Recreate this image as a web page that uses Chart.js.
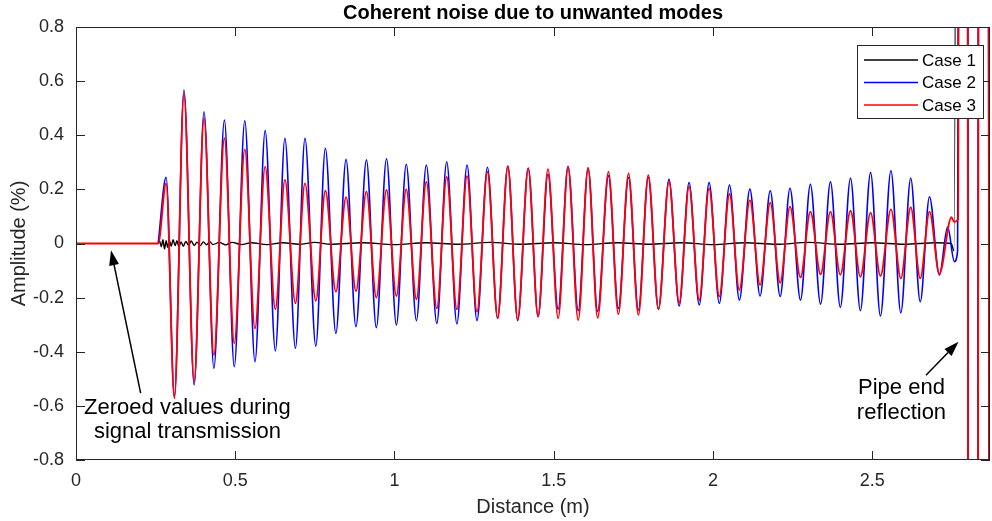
<!DOCTYPE html>
<html lang="en">
<head>
<meta charset="UTF-8" />
<title>Coherent noise due to unwanted modes</title>
<script src="https://cdn.jsdelivr.net/npm/chart.js"></script>
<style>
  html, body { margin: 0; padding: 0; background: #ffffff; }
</style>
</head>
<body>
<canvas id="noiseChart" width="992" height="521"></canvas>

<script>
  // ---- data ----
  // leading zeroed section (signal transmission); only case 3 is visible there
  var onsetX = [0, 0.258];
  var onsetY = [0, 0];

  // peak / trough positions of the oscillation (m)
  var extremaX = [
    0.283, 0.309, 0.339, 0.371, 0.402, 0.433, 0.466, 0.497, 0.530, 0.562,
    0.594, 0.626, 0.656, 0.689, 0.719, 0.753, 0.783, 0.816, 0.848, 0.879,
    0.912, 0.943, 0.975, 1.006, 1.037, 1.069, 1.100, 1.133, 1.164, 1.196,
    1.228, 1.259, 1.292, 1.324, 1.356, 1.387, 1.420, 1.451, 1.482, 1.514,
    1.545, 1.577, 1.608, 1.638, 1.672, 1.703, 1.735, 1.766, 1.797, 1.829,
    1.862, 1.894, 1.925, 1.957, 1.988, 2.020, 2.052, 2.083, 2.116, 2.148,
    2.180, 2.211, 2.242, 2.275, 2.306, 2.338, 2.369, 2.400, 2.432, 2.463,
    2.495, 2.526, 2.559, 2.590, 2.621, 2.651, 2.680, 2.711
  ];

  // case 2 (blue) amplitude at each extremum
  var case2Peaks = [
    0.245, -0.565, 0.567, -0.523, 0.487, -0.461, 0.456, -0.455, 0.453, -0.437,
    0.417, -0.397, 0.389, -0.387, 0.389, -0.379, 0.352, -0.332, 0.311, -0.307,
    0.309, -0.311, 0.313, -0.301, 0.293, -0.285, 0.290, -0.295, 0.302, -0.297,
    0.290, -0.285, 0.282, -0.276, 0.286, -0.285, 0.278, -0.270, 0.256, -0.243,
    0.284, -0.248, 0.278, -0.250, 0.250, -0.240, 0.244, -0.246, 0.245, -0.243,
    0.237, -0.231, 0.225, -0.227, 0.225, -0.221, 0.216, -0.209, 0.201, -0.194,
    0.195, -0.196, 0.204, -0.209, 0.219, -0.224, 0.228, -0.236, 0.241, -0.248,
    0.262, -0.268, 0.269, -0.256, 0.241, -0.215, 0.173, -0.116
  ];

  // case 3 (red) amplitude at each extremum
  var case3Peaks = [
    0.222, -0.572, 0.555, -0.510, 0.463, -0.412, 0.389, -0.369, 0.348, -0.314,
    0.284, -0.243, 0.235, -0.221, 0.222, -0.212, 0.195, -0.178, 0.171, -0.176,
    0.192, -0.200, 0.198, -0.194, 0.200, -0.206, 0.228, -0.240, 0.246, -0.243,
    0.249, -0.252, 0.265, -0.276, 0.286, -0.280, 0.278, -0.270, 0.275, -0.276,
    0.284, -0.283, 0.280, -0.275, 0.265, -0.261, 0.259, -0.264, 0.253, -0.243,
    0.229, -0.219, 0.210, -0.209, 0.204, -0.196, 0.183, -0.172, 0.160, -0.153,
    0.151, -0.145, 0.136, -0.125, 0.118, -0.114, 0.118, -0.116, 0.121, -0.123,
    0.114, -0.120, 0.126, -0.129, 0.134, -0.129, 0.118, -0.112
  ];

  // pipe end reflection (goes far off scale)
  var case2TailX = [2.737, 2.758, 2.768, 2.784, 2.817, 2.849, 2.880];
  var case2TailY = [0.062, -0.067, -0.030, 20, -20, 20, -20];
  var case3TailX = [2.749, 2.757, 2.770, 2.784, 2.817, 2.849, 2.880];
  var case3TailY = [0.097, 0.080, 0.090, 20, -20, 20, -20];

  // case 1 (black): small residual around zero
  var caseOneX = [
    0.258, 0.263, 0.268, 0.273, 0.278, 0.283, 0.288, 0.293, 0.299,
    0.305, 0.311, 0.317, 0.323, 0.330, 0.337, 0.345, 0.353, 0.362, 0.371,
    0.380, 0.390, 0.400, 0.410, 0.420, 0.430, 0.450, 0.470, 0.490, 0.520,
    0.550, 0.600, 0.650, 0.700, 0.750, 0.800, 0.900, 1.000, 1.100, 1.200,
    1.300, 1.400, 1.500, 1.600, 1.700, 1.800, 1.900, 2.000, 2.100, 2.200,
    2.300, 2.400, 2.500, 2.600, 2.700, 2.748, 2.757, 2.784, 2.817, 2.849, 2.880
  ];
  var caseOneY = [
    0, 0.008, -0.012, 0.014, -0.020, 0.010, -0.014, 0.012, -0.010,
    0.014, -0.008, 0.010, -0.012, 0.006, -0.010, 0.008, -0.006, 0.009, -0.007,
    0.005, -0.008, 0.006, -0.005, 0.007, -0.004, 0.004, -0.005, 0.004, -0.004,
    0.003, -0.004, 0.003, -0.003, 0.004, -0.003, 0.003, -0.004, 0.003, -0.003,
    0.004, -0.003, 0.003, -0.004, 0.003, -0.003, 0.003, -0.004, 0.003, -0.003,
    0.004, -0.003, 0.003, -0.003, 0.003, 0, -0.027, 20, -20, 20, -20
  ];

  var xTicks = [0, 0.5, 1, 1.5, 2, 2.5];
  var yTicks = [-0.8, -0.6, -0.4, -0.2, 0, 0.2, 0.4, 0.6, 0.8];

  var FONT = "'Liberation Sans', Arial, sans-serif";
  var axisColor = "#262626";

  function zip(xs, ys) {
    return xs.map(function (v, i) {
      return { x: v, y: ys[i] };
    });
  }

  var case1Data = zip(caseOneX, caseOneY);
  var case2Data = zip(onsetX.slice(1), onsetY.slice(1))
    .concat(zip(extremaX, case2Peaks))
    .concat(zip(case2TailX, case2TailY));
  var case3Data = zip(onsetX, onsetY)
    .concat(zip(extremaX, case3Peaks))
    .concat(zip(case3TailX, case3TailY));

  // arrow from text to the feature
  function drawArrow(ctx, x1, y1, x2, y2) {
    var ang = Math.atan2(y2 - y1, x2 - x1);
    var len = 15, half = 5;
    var bx = x2 - len * Math.cos(ang), by = y2 - len * Math.sin(ang);
    ctx.beginPath();
    ctx.moveTo(x1, y1);
    ctx.lineTo(bx, by);
    ctx.stroke();
    ctx.beginPath();
    ctx.moveTo(x2, y2);
    ctx.lineTo(bx + half * Math.sin(ang), by - half * Math.cos(ang));
    ctx.lineTo(bx - half * Math.sin(ang), by + half * Math.cos(ang));
    ctx.closePath();
    ctx.fill();
  }

  // MATLAB style box, inward ticks, title, labels, legend, notes
  var frame = {
    id: "frame",
    afterDraw: function (chart) {
      var ctx = chart.ctx, a = chart.chartArea;
      var sx = chart.scales.x, sy = chart.scales.y;
      var tickLen = 9;
      ctx.save();

      ctx.strokeStyle = axisColor;
      ctx.lineWidth = 1;
      ctx.strokeRect(a.left + 0.5, a.top + 0.5, a.right - a.left - 1, a.bottom - a.top - 1);
      ctx.beginPath();
      xTicks.forEach(function (v) {
        var px = Math.round(sx.getPixelForValue(v)) + 0.5;
        ctx.moveTo(px, a.bottom);
        ctx.lineTo(px, a.bottom - tickLen);
        ctx.moveTo(px, a.top);
        ctx.lineTo(px, a.top + tickLen);
      });
      yTicks.forEach(function (v) {
        var py = Math.round(sy.getPixelForValue(v)) + 0.5;
        ctx.moveTo(a.left, py);
        ctx.lineTo(a.left + tickLen, py);
        ctx.moveTo(a.right, py);
        ctx.lineTo(a.right - tickLen, py);
      });
      ctx.stroke();

      // title
      var cx = (a.left + a.right) / 2;
      ctx.fillStyle = "#000000";
      ctx.textAlign = "center";
      ctx.textBaseline = "middle";
      ctx.font = "bold 20px " + FONT;
      ctx.fillText("Coherent noise due to unwanted modes", cx, 13);

      // axis titles
      ctx.fillStyle = axisColor;
      ctx.font = "20px " + FONT;
      ctx.fillText("Distance (m)", cx, 507);
      ctx.save();
      ctx.translate(19, (a.top + a.bottom) / 2);
      ctx.rotate(-Math.PI / 2);
      ctx.fillText("Amplitude (%)", 0, 0);
      ctx.restore();

      // legend
      var lx = 857, ly = 45, lw = 126, lh = 73;
      ctx.fillStyle = "#ffffff";
      ctx.fillRect(lx, ly, lw, lh);
      ctx.strokeStyle = axisColor;
      ctx.lineWidth = 1;
      ctx.strokeRect(lx + 0.5, ly + 0.5, lw, lh);
      ctx.font = "17px " + FONT;
      ctx.textAlign = "left";
      chart.data.datasets.forEach(function (ds, i) {
        var rowY = 60 + i * 22.5;
        ctx.strokeStyle = ds.borderColor;
        ctx.lineWidth = 1.5;
        ctx.beginPath();
        ctx.moveTo(864, rowY);
        ctx.lineTo(918, rowY);
        ctx.stroke();
        ctx.fillStyle = "#000000";
        ctx.fillText(ds.label, 922, rowY + 1);
      });

      // annotations
      ctx.fillStyle = "#000000";
      ctx.strokeStyle = "#000000";
      ctx.lineWidth = 1.5;
      ctx.textAlign = "center";
      ctx.font = "22px " + FONT;
      ctx.fillText("Zeroed values during", sx.getPixelForValue(0.35), sy.getPixelForValue(-0.608));
      ctx.fillText("signal transmission", sx.getPixelForValue(0.35), sy.getPixelForValue(-0.697));
      drawArrow(ctx, sx.getPixelForValue(0.203), sy.getPixelForValue(-0.553),
        sx.getPixelForValue(0.110), sy.getPixelForValue(-0.025));
      ctx.fillText("Pipe end", sx.getPixelForValue(2.592), sy.getPixelForValue(-0.534));
      ctx.fillText("reflection", sx.getPixelForValue(2.592), sy.getPixelForValue(-0.627));
      drawArrow(ctx, sx.getPixelForValue(2.669), sy.getPixelForValue(-0.487),
        sx.getPixelForValue(2.771), sy.getPixelForValue(-0.363));

      ctx.restore();
    },
  };

  function lineSet(label, color, width, data, order) {
    return {
      label: label,
      data: data,
      borderColor: color,
      backgroundColor: color,
      borderWidth: width,
      pointRadius: 0,
      fill: false,
      cubicInterpolationMode: "monotone",
      order: order,
    };
  }

  var ctx = document.getElementById("noiseChart").getContext("2d");
  var noiseChart = new Chart(ctx, {
    type: "line",
    data: {
      datasets: [
        lineSet("Case 1", "#000000", 1.4, case1Data, 2),
        lineSet("Case 2", "#0000ff", 1.6, case2Data, 1),
        lineSet("Case 3", "#ff0000", 1.8, case3Data, 0),
      ],
    },
    options: {
      responsive: false,
      animation: false,
      layout: { padding: { top: 27, right: 2, left: 0, bottom: 0 } },
      elements: { line: { capBezierPoints: false } },
      plugins: {
        legend: { display: false },
        tooltip: { enabled: false },
      },
      scales: {
        x: {
          type: "linear",
          min: 0,
          max: 2.87,
          grid: { display: false, drawTicks: false },
          border: { display: false },
          ticks: {
            color: axisColor,
            font: { family: FONT, size: 18 },
            padding: 10,
            maxRotation: 0,
            callback: function (v) { return String(v); },
          },
          afterBuildTicks: function (s) {
            s.ticks = xTicks.map(function (v) { return { value: v }; });
          },
          afterFit: function (s) { s.height = 61; },
        },
        y: {
          type: "linear",
          min: -0.8,
          max: 0.8,
          grid: { display: false, drawTicks: false },
          border: { display: false },
          ticks: {
            color: axisColor,
            font: { family: FONT, size: 18 },
            padding: 12,
            callback: function (v) { return String(Number(v.toFixed(1))); },
          },
          afterBuildTicks: function (s) {
            s.ticks = yTicks.map(function (v) { return { value: v }; });
          },
          afterFit: function (s) { s.width = 76; },
        },
      },
    },
    plugins: [frame],
  });
</script>
</body>
</html>
